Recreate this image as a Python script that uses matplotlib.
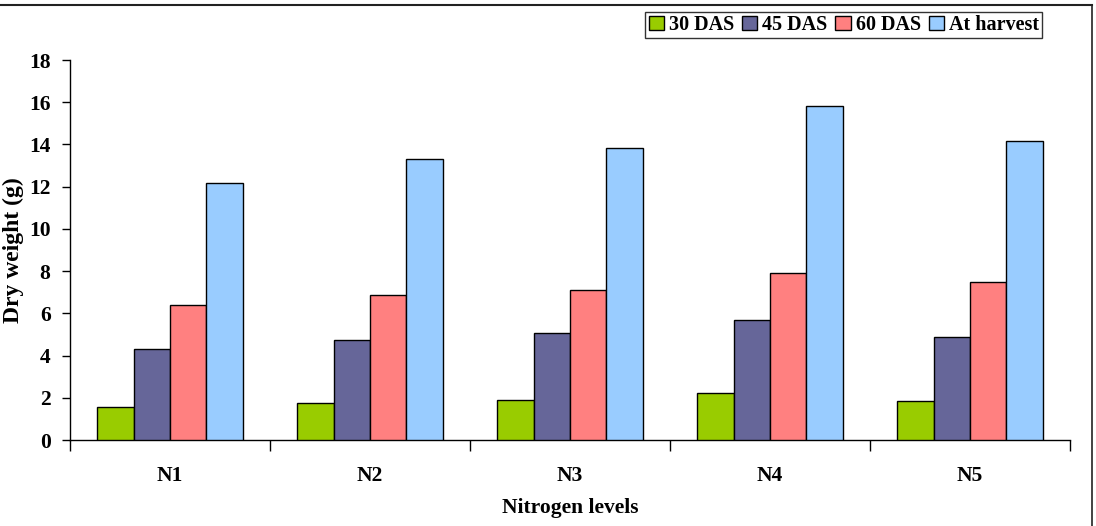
import numpy as np
import matplotlib
matplotlib.use("Agg")
import matplotlib.pyplot as plt
from matplotlib.lines import Line2D

# Data
categories = ["N1", "N2", "N3", "N4", "N5"]
das30 = [1.55, 1.74, 1.88, 2.23, 1.86]
das45 = [4.32, 4.74, 5.05, 5.70, 4.89]
das60 = [6.38, 6.87, 7.10, 7.93, 7.50]
harvest = [12.19, 13.30, 13.82, 15.81, 14.18]
series_names = ["30 DAS", "45 DAS", "60 DAS", "At harvest"]
colors = ["#99CC00", "#666699", "#FF8080", "#99CCFF"]

plt.rcParams["font.family"] = ["Liberation Serif", "DejaVu Serif"]
plt.rcParams["font.weight"] = "bold"

fig = plt.figure(figsize=(10.96, 5.26), dpi=100)
ax = fig.add_axes([70 / 1096, 86 / 526, 1000 / 1096, 380 / 526])

x = np.arange(len(categories))
width = 1 / 5.5  # gap width 150%
all_series = [das30, das45, das60, harvest]
for i, (vals, name, c) in enumerate(zip(all_series, series_names, colors)):
    ax.bar(x + (i - 1.5) * width, vals, width, color=c, edgecolor="black",
           linewidth=1.0, label=name, zorder=3)

ax.set_xlim(-0.5, len(categories) - 0.5)
ax.set_ylim(0, 18)
ax.set_yticks(np.arange(0, 19, 2))
ax.set_yticklabels([str(v) for v in range(0, 19, 2)], fontsize=15.5, fontweight="bold")

# category labels between boundary ticks
ax.set_xticks(np.arange(-0.5, len(categories), 1))
ax.set_xticklabels([])
ax.tick_params(axis="x", length=8, width=1, direction="out")
ax.tick_params(axis="y", length=6, width=1, direction="out", pad=8)
for xi, lab in zip(x, categories):
    ax.text(xi, -1.7, lab, ha="center", va="center", fontsize=15.5,
            fontweight="bold", transform=ax.transData)

ax.text(0.5, -0.18, "Nitrogen levels", ha="center", va="center", fontsize=15.5,
        fontweight="bold", transform=ax.transAxes)
ax.set_ylabel("Dry weight (g)", fontsize=17, fontweight="bold")
ax.yaxis.set_label_coords(-0.046, 0.5)

for s in ["top", "right"]:
    ax.spines[s].set_visible(False)
for s in ["left", "bottom"]:
    ax.spines[s].set_linewidth(1.0)

leg = fig.legend(loc="upper right", bbox_to_anchor=(1042 / 1096, 1 - 12 / 526),
                 ncol=4, frameon=True, fancybox=False, edgecolor="black",
                 prop={"size": 14.5, "weight": "bold"}, handlelength=0.75,
                 handleheight=0.75, handletextpad=0.25, columnspacing=0.4,
                 borderpad=0.15, borderaxespad=0)
leg.get_frame().set_linewidth(1.0)

# chart border: only top and right edges show in the reference
fig.add_artist(Line2D([0, 1092 / 1096], [1 - 5 / 526, 1 - 5 / 526],
                      transform=fig.transFigure, color="#222222", linewidth=1.5))
fig.add_artist(Line2D([1092 / 1096, 1092 / 1096], [0, 1 - 5 / 526],
                      transform=fig.transFigure, color="#222222", linewidth=1.2))

fig.savefig("out.png", dpi=100)
